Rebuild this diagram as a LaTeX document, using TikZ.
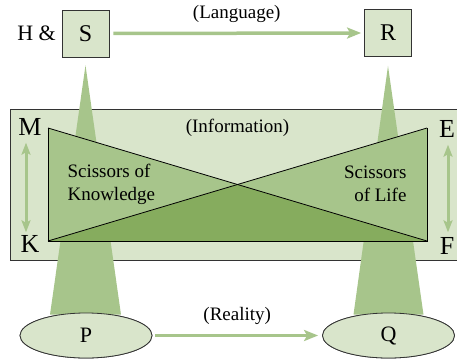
\documentclass[tikz,border=0pt]{standalone}
\usepackage{fontspec}
\setmainfont{Liberation Serif}
\usetikzlibrary{positioning,calc,shapes.geometric,arrows.meta}
\definecolor{lightgr}{HTML}{D9E5CB}
\definecolor{midgr}{HTML}{A7C58B}
\definecolor{darkgr}{HTML}{86AC5E}
\begin{document}
\begin{tikzpicture}[
		x=1pt, y=-1pt,
		sqbox/.style={draw=black!80, line width=0.8pt, fill=lightgr, minimum size=47pt, inner sep=0pt, font=\fontsize{24}{26}\selectfont},
		oval/.style={ellipse, draw=black!80, line width=0.8pt, fill=lightgr, minimum width=132pt, minimum height=45pt, inner sep=0pt, font=\fontsize{22}{24}\selectfont},
		corner/.style={inner sep=0pt, text height=17pt, text depth=0pt, font=\fontsize{26}{28}\selectfont},
		lab/.style={font=\fontsize{19}{23}\selectfont},
		flow/.style={draw=midgr, line width=3.5pt, -{Stealth[length=14pt,width=11pt,inset=3pt]}},
		dbl/.style={draw=midgr, line width=3pt, {Stealth[length=12pt,width=9pt,inset=2.5pt]}-{Stealth[length=12pt,width=9pt,inset=2.5pt]}},
		beam/.style={fill=midgr},
	]
		\useasboundingbox (0,0) rectangle (457,361);
		\clip (0,0) rectangle (457,361);
		
		% information plane
		\draw[draw=black!80, line width=0.8pt, fill=lightgr] (10,109) rectangle (463,260);
		
		\node[sqbox] (S) at (85.5,33.5) {S};
		\node[sqbox] (R) at (388,33) {R};
		\node[oval] (P) at (86,335.5) {P};
		\node[oval] (Q) at (388.5,335.5) {Q};
		\node[inner sep=0pt, anchor=east, font=\fontsize{22}{24}\selectfont] (HS) at (56,33.5) {H \&};
		
		% beams
		\fill[beam] ([yshift=-8pt]S.south) -- ([xshift=-36pt,yshift=-2pt]P.north) -- ([xshift=35pt,yshift=-2pt]P.north) -- cycle;
		\fill[beam] ([yshift=-9pt]R.south) -- ([xshift=-35pt,yshift=-2pt]Q.north) -- ([xshift=35pt,yshift=-2pt]Q.north) -- cycle;
		\node[oval] at (P) {P};
		\node[oval] at (Q) {Q};
		
		% scissors
		\coordinate (M) at (48,128);
		\coordinate (K) at (48,241);
		\coordinate (E) at (427,128);
		\coordinate (F) at (427,241);
		\coordinate (X) at ($(M)!0.5!(F)$);
		\fill[midgr] (M) -- (K) -- (X) -- cycle;
		\fill[midgr] (E) -- (F) -- (X) -- cycle;
		\fill[darkgr] (K) -- (F) -- (X) -- cycle;
		\draw[line width=0.8pt] (M) -- (K) -- (F) -- (E);
		\draw[line width=0.8pt] (M) -- (F);
		\draw[line width=0.8pt] (K) -- (E);
		
		\node[corner] (Ml) at (30,127) {M};
		\node[corner] (Kl) at (30,244) {K};
		\node[corner] (El) at (447,129) {E};
		\node[corner] (Fl) at (447,246) {F};
		\draw[dbl, shorten <=7pt, shorten >=3pt] ([xshift=-4pt]Ml.south) -- ([xshift=-4pt]Kl.north);
		\draw[dbl, shorten <=7pt, shorten >=5pt] ([xshift=1pt]El.south) -- ([xshift=1pt]Fl.north);
		
		\node[lab] (info) at (237.5,128) {(Information)};
		\node[lab, align=left, anchor=west] (know) at (64,184) {Scissors of\\Knowledge};
		\node[lab, align=right, anchor=east] (life) at (410,184) {Scissors\\of Life};
		
		% language and reality
		\draw[flow, shorten <=4pt, shorten >=3pt] (S.east) -- (R.west) node[lab, midway, above=6pt] {(Language)};
		\draw[flow, shorten <=3pt, shorten >=4pt] (P.east) -- (Q.west) node[lab, midway, above=6pt] {(Reality)};
	\end{tikzpicture}
\end{document}
